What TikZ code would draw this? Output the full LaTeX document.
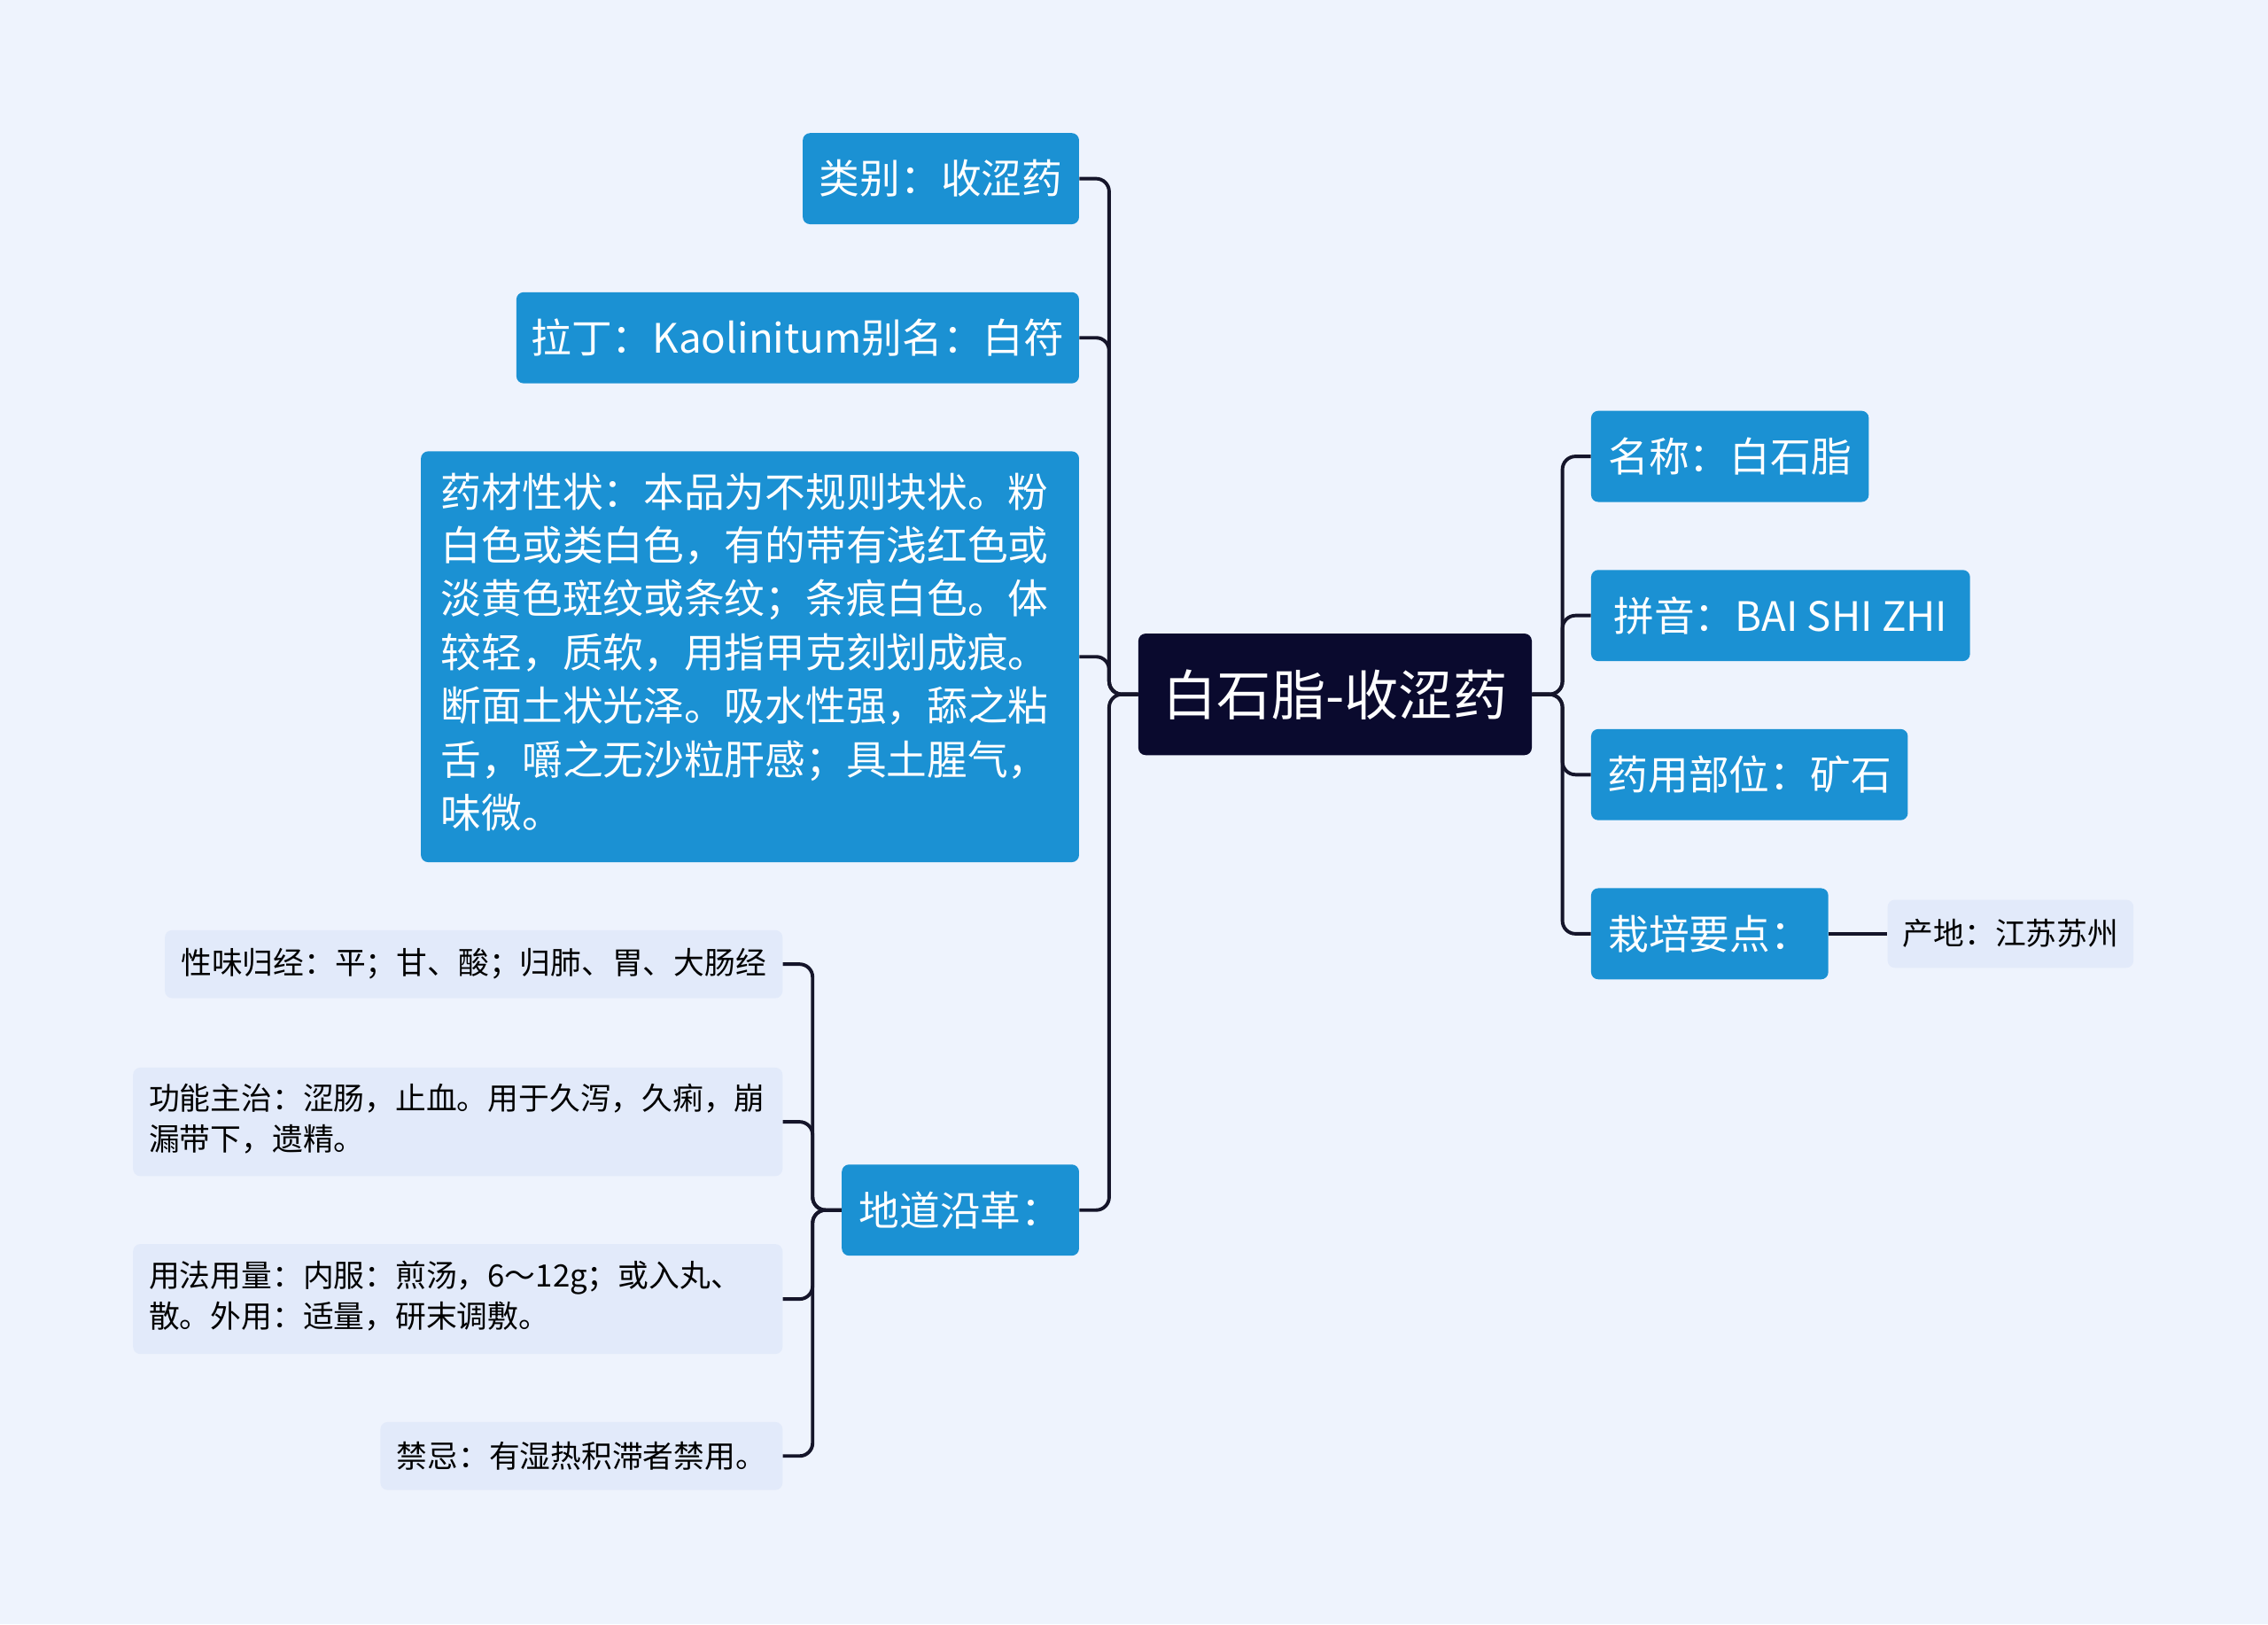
\documentclass[tikz,border=0pt]{standalone}
\usepackage{fontspec}
\setmainfont{Noto Sans CJK SC}
\definecolor{bg}{HTML}{EEF3FD}
\definecolor{blu}{HTML}{1B91D3}
\definecolor{dk}{HTML}{0A0A2E}
\definecolor{lt}{HTML}{E2EAFA}
\definecolor{ln}{HTML}{15152A}
\begin{document}
\begin{tikzpicture}[x=1pt,y=-1pt,
 box/.style={rounded corners=5,anchor=center,inner sep=0pt},
 bb/.style={box,fill=blu,text=white,font=\fontsize{28}{37}\selectfont},
 sb/.style={box,fill=lt,text=black,font=\fontsize{21.3}{28}\selectfont},
 conn/.style={draw=ln,line width=2.4pt,rounded corners=9}]
\fill[bg] (0,0) rectangle (1568,1123);
\useasboundingbox (0,0) rectangle (1568,1123);
\node[box,fill=dk,text=white,font=\fontsize{37.5}{40}\selectfont,minimum width=272,minimum height=84] (c) at (923,480) {白石脂-收涩药};
% right
\node[bb,minimum width=192,minimum height=63] (r1) at (1196,315.5) {名称：白石脂};
\node[bb,minimum width=262,minimum height=63] (r2) at (1231,425.5) {拼音：BAI SHI ZHI};
\node[bb,minimum width=219,minimum height=63] (r3) at (1209.5,535.5) {药用部位：矿石};
\node[bb,minimum width=164,minimum height=63] (r4) at (1182,645.5) {栽培要点：};
\node[sb,minimum width=170,minimum height=47] (r41) at (1390,645.5) {产地：江苏苏州};
% left
\node[bb,minimum width=191,minimum height=63] (l1) at (650.5,123.5) {类别：收涩药};
\node[bb,minimum width=389,minimum height=63] (l2) at (551.5,233.5) {拉丁：Kaolinitum别名：白符};
\node[bb,minimum height=284,inner xsep=14pt,text width=427] (l3) at (518.5,454) {\begin{tabular}{@{}l@{}}药材性状：本品为不规则块状。粉\\白色或类白色，有的带有浅红色或\\淡黄色斑纹或条纹；条痕白色。体\\较轻，质软，用指甲克刻划成痕。\\断面土状光泽。吸水性强，舔之粘\\舌，嚼之无沙粒肝感；具土腥气，\\味微。\end{tabular}};
\node[bb,minimum width=164,minimum height=63] (l4) at (664,836.5) {地道沿革：};
\node[sb,minimum width=427,minimum height=47] (s1) at (327.5,666.5) {性味归经：平；甘、酸；归肺、胃、大肠经};
\node[sb,minimum height=75,inner xsep=11pt,text width=427] (s2) at (316.5,775.5) {\begin{tabular}{@{}l@{}}功能主治：涩肠，止血。用于久泻，久痢，崩\\漏带下，遗精。\end{tabular}};
\node[sb,minimum height=76,inner xsep=11pt,text width=427] (s3) at (316.5,898) {\begin{tabular}{@{}l@{}}用法用量：内服：煎汤，6～12g；或入丸、\\散。外用：适量，研末调敷。\end{tabular}};
\node[sb,minimum width=278,minimum height=47] (s4) at (402,1006.5) {禁忌：有湿热积滞者禁用。};
% connectors
\foreach \n in {r1,r2,r3,r4} \draw[conn] (c.east) -- ++(21,0) |- (\n.west);
\draw[conn] (r4.east) -- (r41.west);
\foreach \n in {l1,l2,l3,l4} \draw[conn] (c.west) -- ++(-20,0) |- (\n.east);
\foreach \n in {s1,s2,s3,s4} \draw[conn] (l4.west) -- ++(-20,0) |- (\n.east);
\end{tikzpicture}
\end{document}
